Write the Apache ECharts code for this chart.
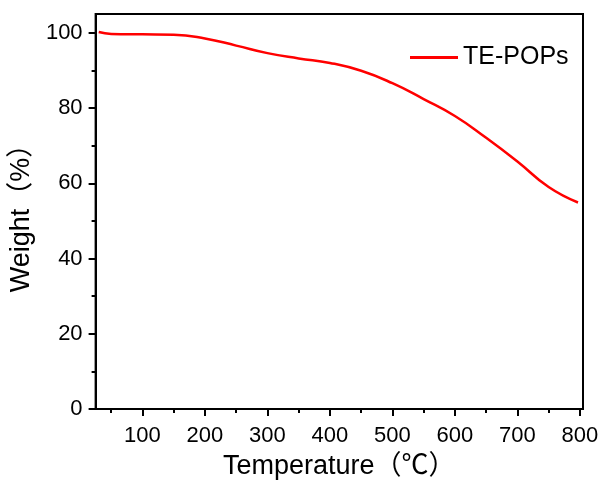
<!DOCTYPE html>
<html>
<head>
<meta charset="utf-8">
<script src="https://cdn.jsdelivr.net/npm/echarts@6/dist/echarts.min.js"></script>
<style>html,body{margin:0;padding:0;background:#fff}#c{width:605px;height:485px}</style>
</head>
<body>
<div id="c"></div>
<script>
const temps = [30, 50, 100, 150, 200, 250, 300, 350, 400, 450, 500, 550, 600, 650, 700, 750, 797];
const weights = [100.2, 99.7, 99.6, 99.5, 98.5, 96.6, 94.6, 93.2, 92.0, 89.9, 86.6, 82.4, 77.9, 72.1, 65.8, 59.0, 54.9];
const xMajor = [100, 200, 300, 400, 500, 600, 700, 800];
const xMinor = [50, 150, 250, 350, 450, 550, 650, 750];
const yMajor = [0, 20, 40, 60, 80, 100];
const yMinor = [10, 30, 50, 70, 90];
const seriesName = 'TE-POPs';

const FONT = '"Liberation Sans", Arial, "Noto Sans CJK SC", sans-serif';
const chart = echarts.init(document.getElementById('c'), null, {renderer: 'canvas'});
chart.setOption({
  animation: false,
  backgroundColor: '#fff',
  textStyle: {fontFamily: FONT, color: '#000'},
  grid: {left: 89, right: 22, top: 14, bottom: 73, show: true, borderColor: '#000', borderWidth: 2, backgroundColor: 'transparent'},
  legend: {
    left: 405, top: 40, itemWidth: 48, itemHeight: 14, itemGap: 8,
    textStyle: {fontSize: 25, color: '#000', fontFamily: FONT},
    data: [{name: seriesName, icon: 'path://M0,0 L48,0 L48,3 L0,3 Z'}]
  },
  xAxis: [{
    type: 'value', min: 25, max: 805, position: 'bottom',
    name: 'Temperature（℃）', nameLocation: 'middle', nameGap: 44,
    nameTextStyle: {fontSize: 27, color: '#000', fontFamily: FONT},
    axisLine: {show: true, lineStyle: {color: '#000', width: 2}},
    axisTick: {show: true, inside: false, length: 7, lineStyle: {color: '#000', width: 2}, customValues: xMajor},
    axisLabel: {fontSize: 22, color: '#000', margin: 16, customValues: xMajor, fontFamily: FONT},
    splitLine: {show: false}
  }, {
    type: 'value', min: 25, max: 805, position: 'bottom', gridIndex: 0,
    axisLine: {show: false},
    axisTick: {show: true, length: 4, lineStyle: {color: '#000', width: 2}, customValues: xMinor},
    axisLabel: {show: false},
    splitLine: {show: false}
  }],
  yAxis: [{
    type: 'value', min: 0, max: 105, position: 'left',
    name: 'Weight（%）', nameLocation: 'middle', nameGap: 46, nameRotate: 90,
    nameTextStyle: {fontSize: 27, color: '#000', fontFamily: FONT},
    axisLine: {show: true, lineStyle: {color: '#000', width: 2}},
    axisTick: {show: true, length: 7, lineStyle: {color: '#000', width: 2}, customValues: yMajor},
    axisLabel: {fontSize: 22, color: '#000', margin: 13, customValues: yMajor, fontFamily: FONT},
    splitLine: {show: false}
  }, {
    type: 'value', min: 0, max: 105, position: 'left',
    axisLine: {show: false},
    axisTick: {show: true, length: 4, lineStyle: {color: '#000', width: 2}, customValues: yMinor},
    axisLabel: {show: false},
    splitLine: {show: false}
  }],
  series: [{
    name: seriesName, type: 'line', smooth: 0.5, symbol: 'none',
    xAxisIndex: 0, yAxisIndex: 0,
    lineStyle: {color: '#ff0000', width: 2.5},
    itemStyle: {color: '#ff0000'},
    data: temps.map((t, i) => [t, weights[i]])
  }]
});
</script>
</body>
</html>
